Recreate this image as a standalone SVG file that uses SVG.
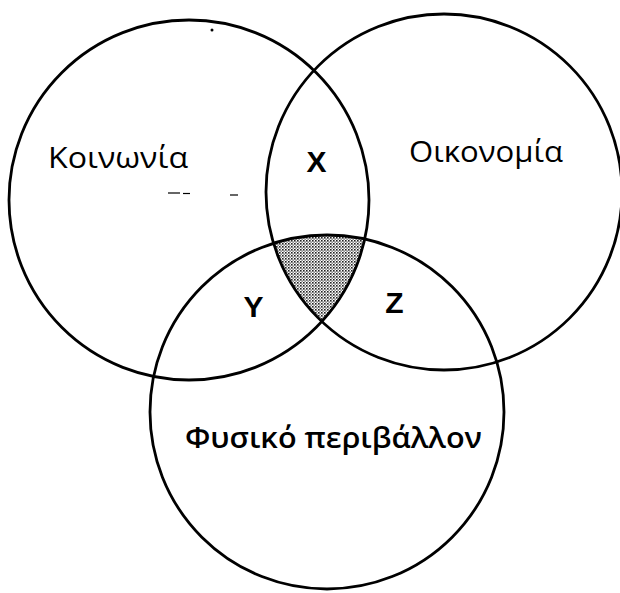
<svg xmlns="http://www.w3.org/2000/svg" width="620" height="593" viewBox="0 0 620 593">
  <defs>
    <pattern id="dots" width="3" height="3" patternUnits="userSpaceOnUse">
      <rect width="3" height="3" fill="#ffffff"/>
      <rect x="0" y="0" width="1.6" height="1.6" fill="#222"/>
      <rect x="1.5" y="1.5" width="1.3" height="1.3" fill="#555"/>
    </pattern>
    <style>
      .circ { fill: none; stroke: #000; stroke-width: 2.8; }
      .lbl { font-family: "Open Sans", "Liberation Sans", sans-serif; fill: #000; }
      .big { font-size: 28.5px; }
      .let { font-family: "Liberation Sans", Arial, sans-serif; font-weight: bold; font-size: 30px; fill: #000; text-anchor: middle; }
      .speck { stroke: #000; stroke-width: 1.2; }
    </style>
  </defs>
  <rect width="620" height="593" fill="#fff"/>
  <g id="center-region">
    <path d="M273.6,243.3 A177,177 0 0 1 364.7,239.1 A180,180 0 0 1 321.8,321.5 A178,178 0 0 1 273.6,243.3 Z" fill="url(#dots)" stroke="none"/>
  </g>
  <g id="connectors">
    <g id="society">
      <circle class="circ" cx="189" cy="200" r="180"/>
    </g>
    <g id="economy">
      <circle class="circ" cx="444" cy="192" r="178"/>
    </g>
    <g id="environment">
      <circle class="circ" cx="327" cy="412" r="177"/>
    </g>
  </g>
  <g id="labels">
    <text class="lbl big" x="48" y="168" font-weight="500" textLength="140" lengthAdjust="spacingAndGlyphs">Κοινωνία</text>
    <text class="lbl big" x="409" y="162" font-weight="500" textLength="154" lengthAdjust="spacingAndGlyphs">Οικονομία</text>
    <text class="lbl big" x="185" y="448" font-weight="600" textLength="297" lengthAdjust="spacingAndGlyphs">Φυσικό περιβάλλον</text>
    <text class="let" x="316.5" y="172">X</text>
    <text class="let" x="253.5" y="317">Y</text>
    <text class="let" x="394.5" y="313">Z</text>
  </g>
  <g id="specks">
    <line class="speck" x1="168" y1="193" x2="180" y2="193"/>
    <line class="speck" x1="183" y1="193.5" x2="190" y2="193.5"/>
    <line class="speck" x1="230" y1="195" x2="238" y2="195"/>
    <circle cx="212" cy="30" r="1.5" fill="#000"/>
  </g>
</svg>
